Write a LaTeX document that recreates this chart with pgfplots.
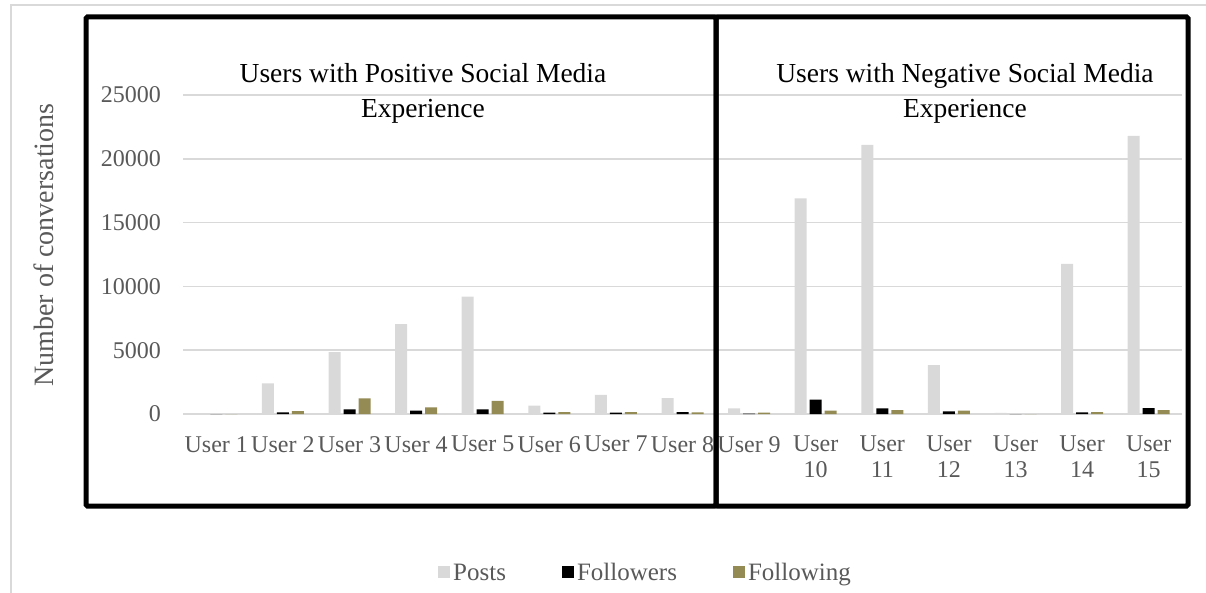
\documentclass[border=0pt]{standalone}
\usepackage{fontspec}
\setmainfont{Liberation Serif}
\usepackage{pgfplots}
\pgfplotsset{compat=1.18}

\definecolor{txtgray}{HTML}{595959}
\definecolor{postgray}{HTML}{D9D9D9}
\definecolor{gridgray}{HTML}{D9D9D9}
\definecolor{followolive}{HTML}{948A54}

% idx = user number - 1
\pgfplotstableread{
idx posts followers following
0      0     0     0
1   2400   130   220
2   4850   370  1230
3   7050   260   520
4   9200   370  1020
5    650   100   155
6   1500   100   155
7   1250   150   130
8    450    20   100
9  16900  1120   260
10 21100   450   310
11  3840   210   260
12    80     0     0
13 11760   130   150
14 21790   470   310
}\usertable

\begin{document}
\begin{tikzpicture}[x=1pt,y=1pt]
% light frame of the chart area
\draw[gridgray, line width=1.2pt] (11,-20) -- (11,587) -- (1230,587);

\begin{axis}[
  at={(183pt,178pt)}, anchor=south west,
  width=999pt, height=319pt, scale only axis,
  xmin=-0.5, xmax=14.5, ymin=0, ymax=25000,
  ybar=3pt, bar width=12pt,
  xtick={0,...,14},
  xticklabels={User 1,User 2,User 3,User 4,User 5,User 6,User 7,User 8,User 9,
    {User\\10},{User\\11},{User\\12},{User\\13},{User\\14},{User\\15}},
  ytick={0,5000,10000,15000,20000,25000},
  scaled y ticks=false,
  ymajorgrids, grid style={gridgray, line width=1.5pt},
  axis line style={draw=none},
  major tick length=0pt,
  tick label style={font=\fontsize{24}{26}\selectfont, text=txtgray, inner sep=0pt},
  yticklabel style={anchor=east, xshift=-22pt},
  xticklabel style={anchor=north, yshift=-22pt, align=center},
  /pgf/number format/1000 sep={},
  /pgf/number format/assume math mode=true,
  ylabel={Number of conversations},
  every axis y label/.style={at={(axis description cs:-0.1391,0.5298)}, rotate=90,
    anchor=center, font=\fontsize{28}{30}\selectfont, text=txtgray},
  legend columns=3,
  legend style={at={(axis description cs:0.4635,-0.498)}, anchor=center,
    draw=none, fill=none, font=\fontsize{25}{28}\selectfont, text=txtgray,
    nodes={inner sep=3pt},
    /tikz/every even column/.append style={column sep=53pt}},
  legend image code/.code={\fill[#1] (0pt,-5pt) rectangle (12pt,7pt);},
]
\addplot[fill=postgray, draw=none] table[x=idx, y=posts] {\usertable};
\addplot[fill=black, draw=none] table[x=idx, y=followers] {\usertable};
\addplot[fill=followolive, draw=none] table[x=idx, y=following] {\usertable};
\legend{Posts,Followers,Following}
\end{axis}

% group frames
\draw[line width=5pt, rounded corners=1.5pt] (86,575) rectangle (716,86);
\draw[line width=5pt, rounded corners=1.5pt] (716,575) rectangle (1188,86);

% group headings
\begin{scope}[every node/.style={anchor=base, inner sep=0pt, font=\fontsize{27.5}{30}\selectfont}]
\node at (423,509) {Users with Positive Social Media};
\node at (423,474) {Experience};
\node at (965,509) {Users with Negative Social Media};
\node at (965,474) {Experience};
\end{scope}

\pgfresetboundingbox
\useasboundingbox (0,0) rectangle (1206,592);
\end{tikzpicture}
\end{document}
